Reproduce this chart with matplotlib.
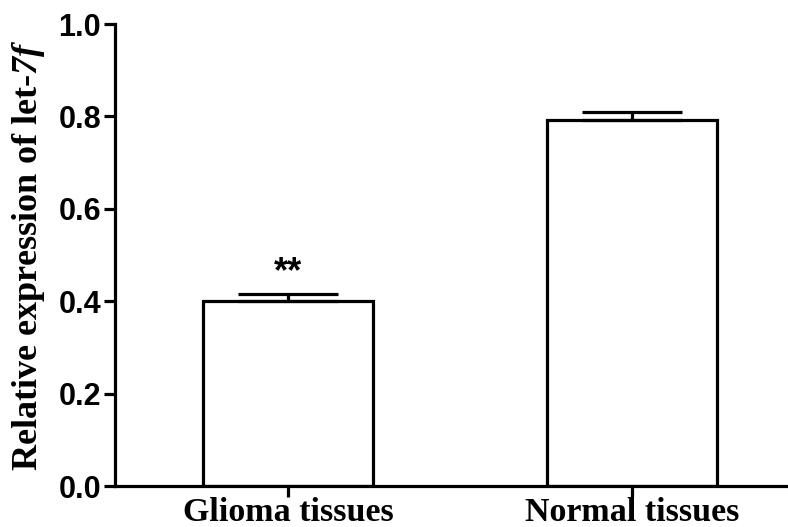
import matplotlib
matplotlib.use("Agg")
import matplotlib.pyplot as plt

categories = ["Glioma tissues", "Normal tissues"]
values = [0.40, 0.793]
errors = [0.016, 0.016]
yticks = [0.0, 0.2, 0.4, 0.6, 0.8, 1.0]
ytick_labels = ["0.0", "0.2", "0.4", "0.6", "0.8", "1.0"]
significance = ["**", ""]

plt.rcParams['mathtext.fontset'] = 'custom'
plt.rcParams['mathtext.rm'] = 'Liberation Serif:bold'
plt.rcParams['mathtext.bfit'] = 'Liberation Serif:italic:bold'
plt.rcParams['mathtext.it'] = 'Liberation Serif:italic:bold'

W, H = 788, 527
fig = plt.figure(figsize=(W / 100, H / 100), dpi=100)
left, right, top, bottom = 115, 805, 24, 486
ax = fig.add_axes([left / W, (H - bottom) / H, (right - left) / W, (bottom - top) / H])

x = list(range(len(categories)))
lw = 2.3
ax.bar(x, values, width=0.494, color="white", edgecolor="black", linewidth=lw, zorder=2)
ax.errorbar(x, values, yerr=[[0] * len(errors), errors], fmt="none", ecolor="black",
            elinewidth=lw, capsize=36, capthick=lw, zorder=3)
for xi, v, e, s in zip(x, values, errors, significance):
    if s:
        ax.text(xi, v + e + 0.045, s, ha="center", va="center", fontsize=26,
                fontweight="bold", family="Liberation Sans")

ax.set_xlim(-0.503, (805 - 288) / 344)
ax.set_ylim(0, 1.0)
ax.set_yticks(yticks)
ax.set_yticklabels(ytick_labels, fontsize=22, fontweight="bold", family="Liberation Sans")
ax.set_xticks(x)
ax.set_xticklabels(categories, fontsize=24.5, fontweight="bold", family="Liberation Serif")
ax.tick_params(axis="both", direction="out", length=8, width=lw)
ax.tick_params(axis="y", pad=2)
ax.tick_params(axis="x", pad=0)
for sp in ["top", "right"]:
    ax.spines[sp].set_visible(False)
for sp in ["left", "bottom"]:
    ax.spines[sp].set_linewidth(lw)
ax.spines["bottom"].set_zorder(4)
ax.set_ylabel(r"Relative expression of let-$\mathbfit{7f}$", fontsize=26,
              fontweight="bold", family="Liberation Serif")
ax.yaxis.set_label_coords(-68 / (right - left), 0.5)

fig.savefig("out.png", dpi=100)
